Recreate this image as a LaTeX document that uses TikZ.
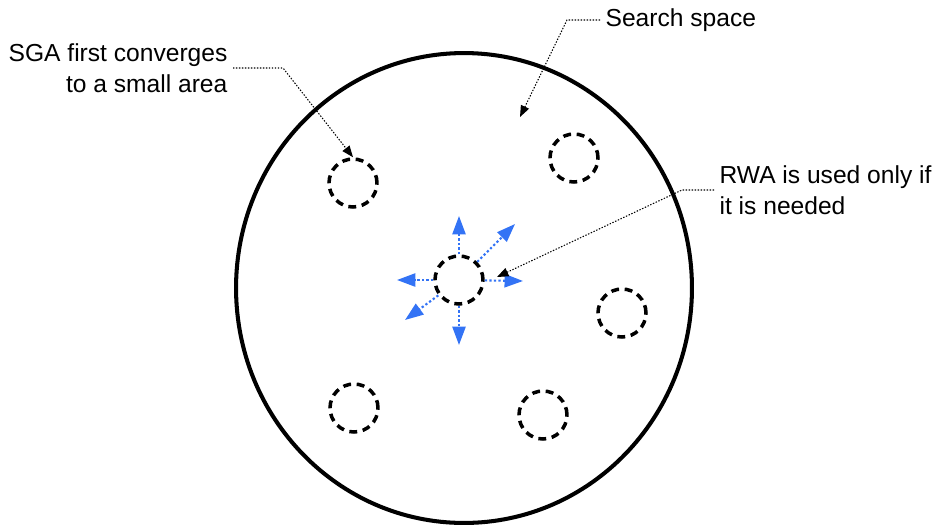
\documentclass[tikz,border=0pt]{standalone}
\usepackage{fontspec}
\setmainfont{Liberation Sans}
\usetikzlibrary{arrows.meta,shapes.geometric}
\definecolor{cprobe}{RGB}{51,115,245}

\begin{document}
\begin{tikzpicture}[x=0.02cm, y=-0.02cm,
  space/.style={draw, ellipse, line width=2.3pt, minimum width=9.12cm,
                minimum height=9.4cm, inner sep=0pt},
  spot/.style={draw, circle, line width=2pt, dash pattern=on 4.5pt off 3.2pt,
               minimum size=0.96cm, inner sep=0pt},
  note/.style={inner sep=3pt, font=\fontsize{14}{17.5}\selectfont},
  lead/.style={line width=0.6pt, dash pattern=on 0.8pt off 0.9pt,
               -{Triangle[length=6.5pt, width=5pt]}},
  probe/.style={cprobe, line width=1.2pt, dash pattern=on 1.3pt off 1.3pt,
                -{Triangle[length=10.5pt, width=7.5pt]}}]
  \useasboundingbox (0,0) rectangle (940,525);
  \node[space] (S) at (464,288) {};
  % small areas
  \node[spot] (c0) at (459,280) {};
  \node[spot] (c1) at (353,183) {};
  \node[spot] (c2) at (574,158) {};
  \node[spot] (c3) at (622,313) {};
  \node[spot] (c4) at (354,408) {};
  \node[spot] (c5) at (543,415) {};
  % random walk around the centre area
  \foreach \i/\p in {1/{459,216}, 2/{515,224}, 3/{523,281},
                     4/{459,345}, 5/{405,320}, 6/{397,280}} {
    \coordinate (p\i) at (\p);
    \draw[probe] (c0) -- (p\i);
  }
  % labels
  \node[note, anchor=east, align=right] (sga) at (233,68)
       {SGA first converges\\to a small area};
  \draw[lead] (sga.east) -- ++(50,0) -- (c1.north);
  \node[note, anchor=west] (srch) at (600,20) {Search space};
  \coordinate (inside) at (520,117);
  \draw[lead] (srch.west) -- ++(-33,0) -- (inside);
  \node[note, anchor=west, align=left] (rwa) at (714,190)
       {RWA is used only if\\it is needed};
  \coordinate (rwatip) at (497,277);
  \draw[lead] (rwa.west) -- ++(-32,0) -- (rwatip);
\end{tikzpicture}
\end{document}
